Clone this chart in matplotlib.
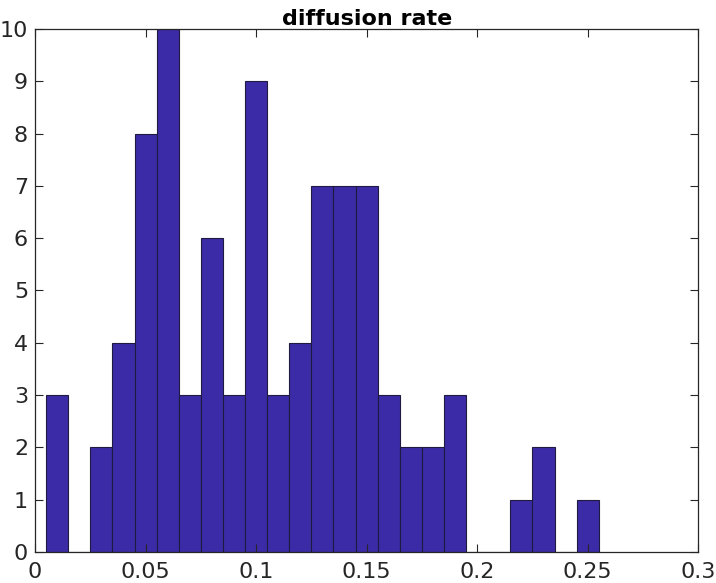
import matplotlib.pyplot as plt
import numpy as np

# histogram bins (width 0.01, starting at 0.005) and counts
bin_edges = np.round(np.arange(0.005, 0.2551, 0.01), 3)
counts = [3, 0, 2, 4, 8, 10, 3, 6, 3, 9, 3, 4, 7, 7, 7, 3, 2, 2, 3, 0, 0, 1, 2, 0, 1]
x_ticks = [0, 0.05, 0.1, 0.15, 0.2, 0.25, 0.3]
x_tick_labels = ['0', '0.05', '0.1', '0.15', '0.2', '0.25', '0.3']
y_ticks = list(range(0, 11))

fig = plt.figure(figsize=(7.16, 5.83), dpi=100)
ax = fig.add_axes([0.0489, 0.0532, 0.9264, 0.8971])

ax.hist(bin_edges[:-1], bins=bin_edges, weights=counts,
        color='#3c2ba6', edgecolor='#1f1a40', linewidth=0.8)

ax.set_xlim(0, 0.3)
ax.set_ylim(0, 10)
ax.set_xticks(x_ticks)
ax.set_xticklabels(x_tick_labels)
ax.set_yticks(y_ticks)
ax.tick_params(direction='in', top=True, right=True, labelsize=16,
               length=6, width=0.8, colors='#262626')
ax.tick_params(axis='x', pad=7)
ax.tick_params(axis='y', pad=5)
for s in ax.spines.values():
    s.set_linewidth(0.9)
    s.set_color('#262626')

ax.set_title('diffusion rate', fontsize=16, fontweight='bold', pad=3)

fig.savefig('out.png', dpi=100)
